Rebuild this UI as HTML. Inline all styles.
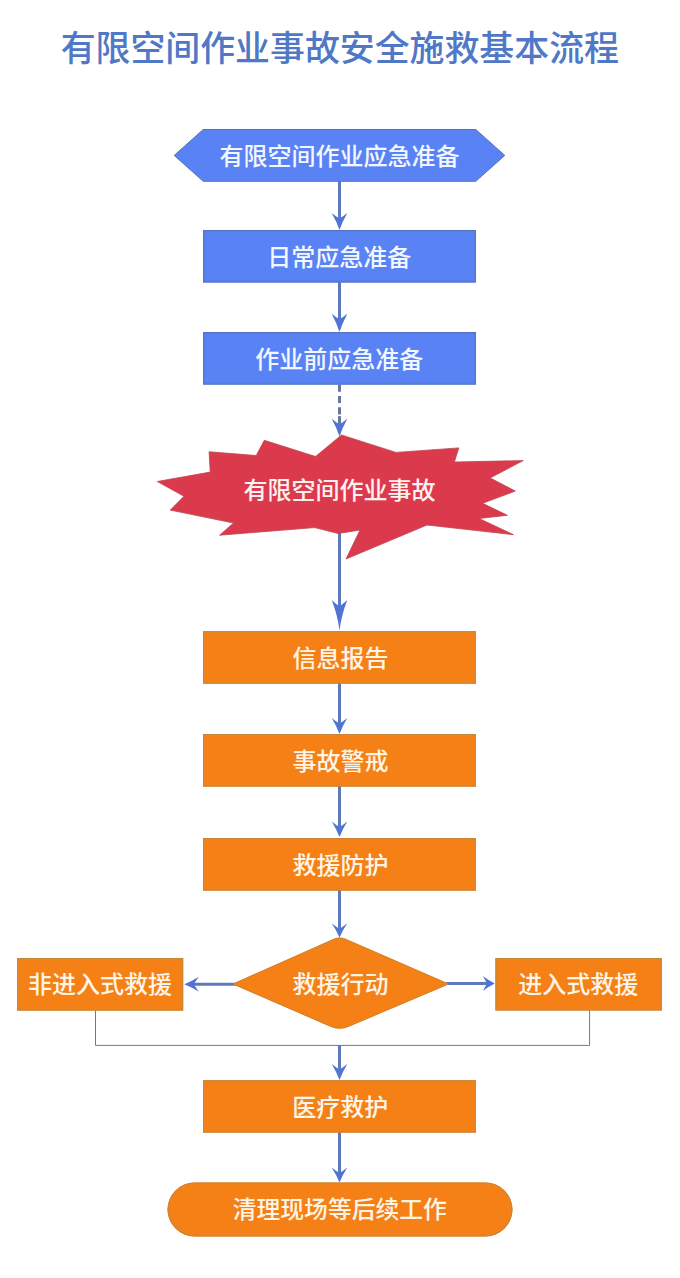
<!DOCTYPE html>
<html lang="zh-CN">
<head>
<meta charset="utf-8">
<title>有限空间作业事故安全施救基本流程</title>
<style>
html,body{margin:0;padding:0;background:#fff}
body{position:relative;width:680px;height:1278px;overflow:hidden;font-family:"Liberation Sans","Noto Sans CJK SC",sans-serif}
svg{position:absolute;left:0;top:0;display:block}
svg text{font-family:"Liberation Sans","Noto Sans CJK SC",sans-serif;font-weight:500}
</style>
</head>
<body>
<svg width="680" height="1278" viewBox="0 0 680 1278">
<line x1="339.5" y1="181" x2="339.5" y2="219.6" stroke="#5b79bb" stroke-width="3"/><path d="M339.5 230Q342.5 221.5 347.3 213Q343.1 216.4 339.5 218.6Q335.9 216.4 331.7 213Q336.5 221.5 339.5 230Z" fill="#4f74d6"/>
<line x1="339.5" y1="282" x2="339.5" y2="320.3" stroke="#5b79bb" stroke-width="3"/><path d="M339.5 332Q342.5 322.85 347.3 313.7Q343.1 317.1 339.5 319.3Q335.9 317.1 331.7 313.7Q336.5 322.85 339.5 332Z" fill="#4f74d6"/>
<line x1="339.5" y1="384.5" x2="339.5" y2="414.5" stroke="#66789f" stroke-width="3" stroke-dasharray="7.2 4.2"/><line x1="339.5" y1="416.1" x2="339.5" y2="425.4" stroke="#66789f" stroke-width="3"/><path d="M339.5 436.5Q342.5 427.65 347.3 418.8Q343.1 422.2 339.5 424.4Q335.9 422.2 331.7 418.8Q336.5 427.65 339.5 436.5Z" fill="#4f74d6"/>
<line x1="339.5" y1="531" x2="339.5" y2="607.6" stroke="#5b79bb" stroke-width="3"/><path d="M339.5 630.6Q341.4 615.35 347.3 600.1Q343.1 603.95 339.5 606.6Q335.9 603.95 331.7 600.1Q337.6 615.35 339.5 630.6Z" fill="#4f74d6"/>
<line x1="339.5" y1="683" x2="339.5" y2="724.6" stroke="#5b79bb" stroke-width="3"/><path d="M339.5 734Q342.5 726 347.3 718Q343.1 721.4 339.5 723.6Q335.9 721.4 331.7 718Q336.5 726 339.5 734Z" fill="#4f74d6"/>
<line x1="339.5" y1="786" x2="339.5" y2="828.1" stroke="#5b79bb" stroke-width="3"/><path d="M339.5 837Q342.5 829.25 347.3 821.5Q343.1 824.9 339.5 827.1Q335.9 824.9 331.7 821.5Q336.5 829.25 339.5 837Z" fill="#4f74d6"/>
<line x1="339.5" y1="890" x2="339.5" y2="929.9" stroke="#5b79bb" stroke-width="3"/><path d="M339.5 937.6Q342.5 930.45 347.3 923.3Q343.1 926.7 339.5 928.9Q335.9 926.7 331.7 923.3Q336.5 930.45 339.5 937.6Z" fill="#4f74d6"/>
<line x1="339.5" y1="1045" x2="339.5" y2="1070.6" stroke="#5b79bb" stroke-width="3"/><path d="M339.5 1080Q342.5 1072 347.3 1064Q343.1 1067.4 339.5 1069.6Q335.9 1067.4 331.7 1064Q336.5 1072 339.5 1080Z" fill="#4f74d6"/>
<line x1="339.5" y1="1132" x2="339.5" y2="1174" stroke="#5b79bb" stroke-width="3"/><path d="M339.5 1182.4Q342.5 1174.9 347.3 1167.4Q343.1 1170.8 339.5 1173Q335.9 1170.8 331.7 1167.4Q336.5 1174.9 339.5 1182.4Z" fill="#4f74d6"/>
<line x1="236" y1="984.2" x2="192.9" y2="984.2" stroke="#5b79bb" stroke-width="3"/><path d="M184.3 984.2Q191.6 981.25 198.9 976.7Q195.9 980.75 193.9 984.2Q195.9 987.65 198.9 991.7Q191.6 987.15 184.3 984.2Z" fill="#4f74d6"/>
<line x1="446" y1="983.6" x2="487.8" y2="983.6" stroke="#5b79bb" stroke-width="3"/><path d="M494.8 983.6Q488.8 980.65 482.8 976.1Q485.3 980.15 486.8 983.6Q485.3 987.05 482.8 991.1Q488.8 986.55 494.8 983.6Z" fill="#4f74d6"/>
<path d="M95.5 1010V1045.4H589.6V1010" fill="none" stroke="#74777d" stroke-width="1"/>
<path d="M174.2 155.4L203.2 129.5L475.8 129.5L504.8 155.4L475.8 181.3L203.2 181.3Z" fill="#5983f5" stroke="#5673bd" stroke-width="1" stroke-linejoin="miter"/>
<rect x="203" y="230" width="273" height="52.5" fill="#5983f5"/>
<rect x="204.5" y="231.5" width="270" height="49.5" fill="none" stroke="#5a7fe4" stroke-width="1"/>
<rect x="203.5" y="230.5" width="272" height="51.5" fill="none" stroke="#5673bd" stroke-width="1"/>
<rect x="203" y="332" width="273" height="52.6" fill="#5983f5"/>
<rect x="204.5" y="333.5" width="270" height="49.6" fill="none" stroke="#5a7fe4" stroke-width="1"/>
<rect x="203.5" y="332.5" width="272" height="51.6" fill="none" stroke="#5673bd" stroke-width="1"/>
<path d="M341.5 435L396 452.4L458.8 447.9L454.4 462L523.2 460.6L490.2 477.9L515.3 491.1L482.6 503.3L507.4 515.3L479.1 518.5L513.5 534.7L427 525L346 559L360 530L338.2 533.5L314.7 527.6L219.6 535.2L233.5 523L170.2 510.1L184 496.3L157.3 481.5L210.2 472.1L209.1 451.8L256.2 455.5L264.3 440.3L315.5 456.5Z" fill="#db3a4c" stroke="#bf4450" stroke-width="0.8" stroke-linejoin="miter" stroke-miterlimit="10"/>
<rect x="203" y="631.2" width="273" height="52.5" fill="#f58016"/>
<rect x="204.5" y="632.7" width="270" height="49.5" fill="none" stroke="#ec8326" stroke-width="1"/>
<rect x="203.5" y="631.7" width="272" height="51.5" fill="none" stroke="#c4863a" stroke-width="1"/>
<rect x="203" y="734" width="273" height="52.6" fill="#f58016"/>
<rect x="204.5" y="735.5" width="270" height="49.6" fill="none" stroke="#ec8326" stroke-width="1"/>
<rect x="203.5" y="734.5" width="272" height="51.6" fill="none" stroke="#c4863a" stroke-width="1"/>
<rect x="203" y="838.1" width="273" height="52.5" fill="#f58016"/>
<rect x="204.5" y="839.6" width="270" height="49.5" fill="none" stroke="#ec8326" stroke-width="1"/>
<rect x="203.5" y="838.6" width="272" height="51.5" fill="none" stroke="#c4863a" stroke-width="1"/>
<rect x="203" y="1080.2" width="273" height="52.4" fill="#f58016"/>
<rect x="204.5" y="1081.7" width="270" height="49.4" fill="none" stroke="#ec8326" stroke-width="1"/>
<rect x="203.5" y="1080.7" width="272" height="51.4" fill="none" stroke="#c4863a" stroke-width="1"/>
<rect x="17" y="958" width="166.2" height="52.6" fill="#f58016"/>
<rect x="18.5" y="959.5" width="163.2" height="49.6" fill="none" stroke="#ec8326" stroke-width="1"/>
<rect x="17.5" y="958.5" width="165.2" height="51.6" fill="none" stroke="#c4863a" stroke-width="1"/>
<rect x="495.4" y="958" width="166.4" height="52.5" fill="#f58016"/>
<rect x="496.9" y="959.5" width="163.4" height="49.5" fill="none" stroke="#ec8326" stroke-width="1"/>
<rect x="495.9" y="958.5" width="165.4" height="51.5" fill="none" stroke="#c4863a" stroke-width="1"/>
<path d="M334.02 938.64Q339.5 936.2 345 938.59L447.21 983Q449.5 984 447.2 984.98L348.7 1026.79Q339.5 1030.7 330.33 1026.71L234.39 985Q232.1 984 234.38 982.98Z" fill="#f58016"/>
<path d="M334.02 939.19Q339.5 936.75 345 939.14L446.01 983Q448.3 984 446 984.98L348.71 1026.25Q339.5 1030.15 330.33 1026.16L235.59 985Q233.3 984 235.58 982.98Z" fill="none" stroke="#c4863a" stroke-width="1" opacity="0.8"/>
<rect x="167.5" y="1182.5" width="345" height="54" rx="27" fill="#f58016"/>
<rect x="169" y="1184" width="342" height="51" rx="25.5" fill="none" stroke="#ec8326" stroke-width="1"/>
<rect x="168" y="1183" width="344" height="53" rx="26.5" fill="none" stroke="#c4863a" stroke-width="1"/>
<text x="339.8" y="61.06" font-size="34.9" fill="#4f78c6" text-anchor="middle">有限空间作业事故安全施救基本流程</text>
<text x="339.5" y="164.72" font-size="24" fill="#f3f7ff" text-anchor="middle">有限空间作业应急准备</text>
<text x="339.2" y="266.02" font-size="24" fill="#f3f7ff" text-anchor="middle">日常应急准备</text>
<text x="339.3" y="367.82" font-size="24" fill="#f3f7ff" text-anchor="middle">作业前应急准备</text>
<text x="339.6" y="499.32" font-size="24" fill="#fff1f1" text-anchor="middle">有限空间作业事故</text>
<text x="340.4" y="667.22" font-size="24" fill="#fff5e6" text-anchor="middle">信息报告</text>
<text x="340.5" y="770.22" font-size="24" fill="#fff5e6" text-anchor="middle">事故警戒</text>
<text x="340.6" y="874.12" font-size="24" fill="#fff5e6" text-anchor="middle">救援防护</text>
<text x="340.6" y="992.82" font-size="24" fill="#fff5e6" text-anchor="middle">救援行动</text>
<text x="100" y="993.02" font-size="24" fill="#fff5e6" text-anchor="middle">非进入式救援</text>
<text x="578.2" y="993.02" font-size="24" fill="#fff5e6" text-anchor="middle">进入式救援</text>
<text x="340.2" y="1115.92" font-size="24" fill="#fff5e6" text-anchor="middle">医疗救护</text>
<text x="339.8" y="1217.94" font-size="23.8" fill="#fff5e6" text-anchor="middle">清理现场等后续工作</text>
</svg>
</body>
</html>
